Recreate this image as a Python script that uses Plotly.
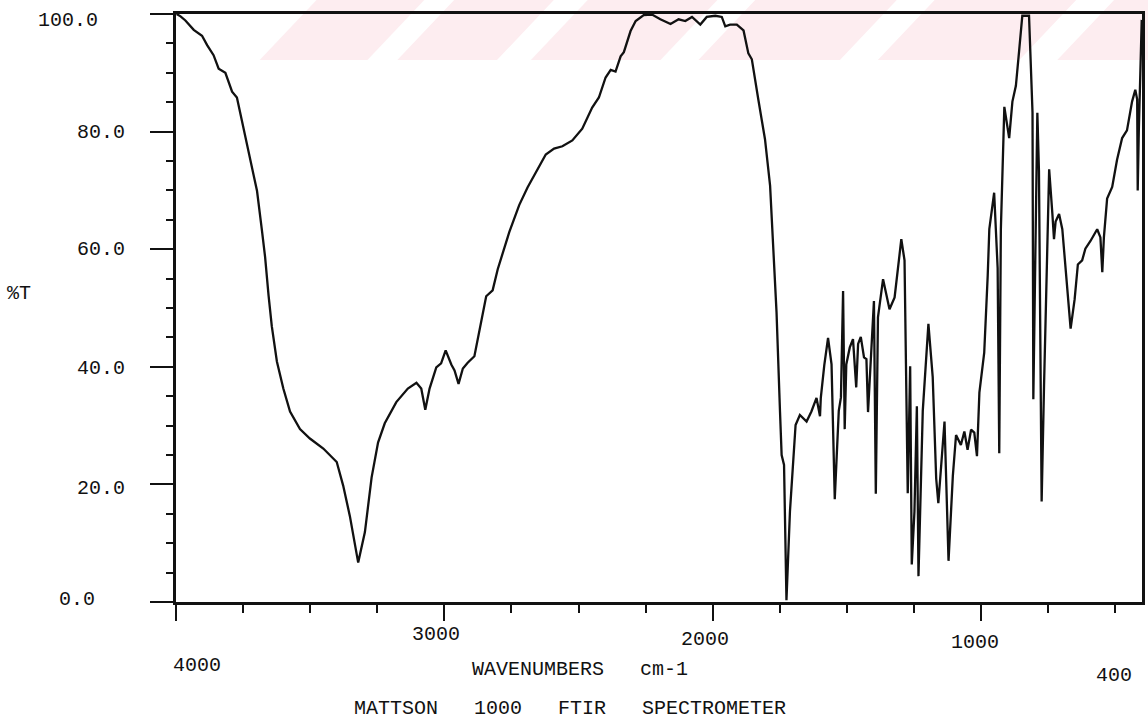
import plotly.graph_objects as go

# ---- data (wavenumber cm-1, %T) ----
wavenumber = [
    3998, 3983, 3965, 3934, 3903, 3884, 3860, 3841, 3816, 3791, 3773, 3754, 3723, 3698,
    3680, 3668, 3655, 3643, 3624, 3600, 3575, 3538, 3501, 3451, 3401, 3377, 3352, 3321,
    3296, 3271, 3247, 3222, 3179, 3136, 3104, 3086, 3071, 3055, 3030, 3012, 2995, 2974,
    2962, 2947, 2931, 2913, 2888, 2869, 2844, 2820, 2801, 2758, 2721, 2690, 2646, 2622,
    2591, 2560, 2523, 2486, 2449, 2424, 2399, 2380, 2362, 2343, 2331, 2306, 2287, 2257,
    2226, 2195, 2157, 2127, 2102, 2077, 2046, 2022, 1990, 1966, 1953, 1935, 1910, 1885,
    1867, 1854, 1830, 1805, 1786, 1774, 1762, 1749, 1743, 1734, 1725, 1712, 1700, 1691,
    1675, 1650, 1632, 1613, 1600, 1597, 1584, 1570, 1557, 1545, 1530, 1522, 1514, 1508,
    1502, 1489, 1477, 1465, 1458, 1448, 1436, 1427, 1421, 1409, 1399, 1392, 1384, 1365,
    1341, 1322, 1297, 1285, 1273, 1264, 1258, 1248, 1239, 1233, 1217, 1196, 1180, 1167,
    1159, 1136, 1121, 1105, 1093, 1075, 1062, 1050, 1037, 1025, 1015, 1006, 988, 975,
    969, 951, 938, 932, 926, 913, 895, 883, 870, 858, 846, 821, 808, 805,
    796, 790, 784, 774, 765, 755, 746, 734, 728, 722, 709, 697, 685, 666,
    651, 639, 623, 611, 592, 567, 555, 548, 542, 530, 511, 493, 474, 456,
    437, 425, 418, 416, 412, 404, 401,
]
transmittance = [
    100.0, 99.6, 98.9, 97.3, 96.3, 94.7, 93.0, 90.7, 90.0, 86.8, 85.8, 81.8, 75.2, 69.9,
    63.3, 58.7, 52.1, 46.9, 40.9, 36.3, 32.4, 29.4, 27.8, 26.1, 23.8, 19.8, 14.6, 6.7,
    11.9, 21.2, 27.1, 30.4, 34.0, 36.3, 37.3, 36.3, 32.7, 36.3, 39.9, 40.6, 42.8, 40.4,
    39.4, 37.1, 39.7, 40.7, 41.8, 46.1, 52.0, 53.0, 56.6, 62.9, 67.5, 70.5, 74.2, 76.1,
    77.1, 77.5, 78.5, 80.5, 84.1, 85.8, 89.2, 90.5, 90.2, 92.8, 93.5, 97.1, 98.8, 99.8,
    99.9, 99.1, 98.3, 99.1, 98.8, 99.5, 98.2, 99.5, 99.7, 99.5, 97.9, 98.2, 98.2, 97.2,
    93.3, 92.3, 85.5, 78.7, 70.8, 60.6, 49.3, 32.3, 25.0, 23.3, 0.3, 15.4, 23.9, 30.1,
    31.8, 30.7, 32.4, 34.7, 31.6, 34.7, 40.3, 44.9, 40.4, 17.5, 32.5, 34.8, 52.9, 29.4,
    40.4, 43.3, 44.7, 36.5, 43.9, 45.1, 41.6, 41.3, 32.3, 41.6, 51.2, 18.4, 48.4, 54.9,
    49.8, 51.8, 61.7, 58.1, 18.5, 40.1, 6.4, 15.4, 33.3, 4.4, 32.5, 47.3, 38.3, 21.0,
    16.8, 30.7, 7.0, 21.4, 28.4, 26.7, 29.0, 25.9, 29.3, 28.8, 24.8, 35.6, 42.4, 55.5,
    63.4, 69.6, 56.8, 25.3, 63.4, 84.2, 78.9, 85.1, 87.8, 93.7, 99.7, 99.7, 83.2, 34.5,
    68.6, 83.2, 73.3, 17.1, 37.0, 56.8, 73.6, 66.0, 61.7, 64.7, 66.0, 63.4, 56.8, 46.5,
    51.5, 57.4, 58.1, 60.1, 61.4, 63.4, 62.0, 56.1, 62.0, 68.6, 70.6, 75.2, 78.9, 80.2,
    85.1, 87.1, 85.5, 70.0, 79.9, 96.4, 99.0,
]

x_major_ticks = [4000, 3000, 2000, 1000]
x_minor_ticks = [3750, 3500, 3250, 2750, 2500, 2250, 1750, 1500, 1250, 750, 500]
x_tick_labels = ["4000", "3000", "2000", "1000", "400"]
y_major_ticks = [0, 20, 40, 60, 80, 100]
y_tick_labels = ["100.0", "80.0", "60.0", "40.0", "20.0", "0.0"]
x_title = "WAVENUMBERS\u00a0\u00a0\u00a0cm-1"
y_title = "%T"
footer = "MATTSON\u00a0\u00a0\u00a01000\u00a0\u00a0\u00a0FTIR\u00a0\u00a0\u00a0SPECTROMETER"

# ---- layout geometry (pixels) ----
W, H = 1148, 726
L, R, T, B = 176, 3, 14, 124
PW, PH = W - L - R, H - T - B


def px(xpix):
    return (xpix - L) / PW


def py(ypix):
    return (H - B - ypix) / PH


FONT = dict(family="Liberation Mono", size=20, color="#111111")

fig = go.Figure()
fig.add_trace(go.Scatter(
    x=wavenumber, y=transmittance, mode="lines",
    line=dict(color="#111111", width=2.3), hoverinfo="skip",
))

annotations = []
# y tick labels: (left edge x, centre y) in pixels
y_label_pos = [(36, 21), (75, 132), (75, 249), (75, 368), (75, 488), (57, 599)]
for txt, (xx, yy) in zip(y_tick_labels, y_label_pos):
    annotations.append(dict(text=txt, x=px(xx), y=py(yy), xref="paper", yref="paper",
                            xanchor="left", yanchor="middle", showarrow=False, font=FONT))
# x tick labels: centre positions in pixels
x_label_pos = [(197, 665), (437, 635), (707, 639), (977, 642), (1117, 675)]
for txt, (xx, yy) in zip(x_tick_labels, x_label_pos):
    annotations.append(dict(text=txt, x=px(xx), y=py(yy), xref="paper", yref="paper",
                            xanchor="center", yanchor="middle", showarrow=False, font=FONT))
annotations.append(dict(text=x_title, x=px(581), y=py(669), xref="paper", yref="paper",
                        xanchor="center", yanchor="middle", showarrow=False, font=FONT))
annotations.append(dict(text=footer, x=px(571), y=py(708), xref="paper", yref="paper",
                        xanchor="center", yanchor="middle", showarrow=False, font=FONT))
annotations.append(dict(text=y_title, x=px(4), y=py(293), xref="paper", yref="paper",
                        xanchor="left", yanchor="middle", showarrow=False, font=FONT))

# faint diagonal watermark band at the top
shapes = []
band_top, band_bot, slant = 0, 60, 57
stripes = [(260, 368), (398, 498), (532, 662), (700, 842), (880, 1022), (1060, 1200)]
for a, b in stripes:
    path = (f"M {px(a)},{py(band_bot)} L {px(b)},{py(band_bot)} "
            f"L {px(b + slant)},{py(band_top)} L {px(a + slant)},{py(band_top)} Z")
    shapes.append(dict(type="path", path=path, xref="paper", yref="paper",
                       fillcolor="#fdedf0", line=dict(width=0), layer="below"))

fig.update_layout(
    width=W, height=H,
    margin=dict(l=L, r=R, t=T, b=B, pad=0),
    paper_bgcolor="white", plot_bgcolor="rgba(0,0,0,0)",
    showlegend=False, hovermode=False,
    annotations=annotations, shapes=shapes,
    xaxis=dict(
        range=[4000, 400], showgrid=False, zeroline=False,
        showline=True, linecolor="#111111", linewidth=2.5, mirror=True,
        tickmode="array", tickvals=x_major_ticks, ticks="outside",
        ticklen=16, tickwidth=2, tickcolor="#111111", showticklabels=False,
        minor=dict(tickmode="array", tickvals=x_minor_ticks, ticks="outside",
                   ticklen=8, tickwidth=1.5, tickcolor="#111111"),
    ),
    yaxis=dict(
        range=[0, 100], showgrid=False, zeroline=False,
        showline=True, linecolor="#111111", linewidth=2.5, mirror=True,
        tickmode="array", tickvals=y_major_ticks, ticks="outside",
        ticklen=23, tickwidth=2, tickcolor="#111111", showticklabels=False,
        minor=dict(dtick=5, tick0=0, ticks="outside", ticklen=7,
                   tickwidth=1.5, tickcolor="#111111"),
    ),
)

fig.write_html("out.html")
